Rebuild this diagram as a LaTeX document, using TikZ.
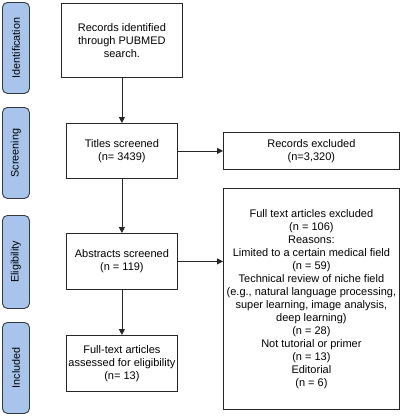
\documentclass[tikz,border=0pt]{standalone}
\usepackage{fontspec}
\setmainfont{Liberation Sans}
\usetikzlibrary{arrows.meta}
\definecolor{phase}{HTML}{A9C4EB}
\definecolor{phaseline}{HTML}{36393D}
\tikzset{
  phasebox/.style={draw=phaseline, fill=phase, rounded corners=5pt, line width=0.9pt,
     minimum width=27pt, minimum height=91pt, inner sep=0pt, anchor=north west},
  phaselabel/.style={rotate=90, font=\fontsize{10.8}{12}\selectfont},
  flowbox/.style={draw=black!85, line width=0.8pt, align=center, inner sep=0pt,
     font=\fontsize{11}{13}\selectfont, anchor=north west},
  flowarrow/.style={-{Triangle[length=6pt,width=6pt]}, line width=0.8pt, draw=black!85},
}
\begin{document}
\begin{tikzpicture}[x=1pt,y=-1pt]
\useasboundingbox (0,0) rectangle (400,416);
\node[phasebox] (pid) at (2,2) {};
\node[phaselabel] (lid) at (pid.center) {Identification};
\node[phasebox] (pscr) at (2,107) {};
\node[phaselabel] (lscr) at (pscr.center) {Screening};
\node[phasebox, minimum height=93pt] (pel) at (2,215) {};
\node[phaselabel] (lel) at (pel.center) {Eligibility};
\node[phasebox] (pin) at (2,322) {};
\node[phaselabel] (lin) at (pin.center) {Included};

\node[flowbox, minimum width=121pt, minimum height=74pt] (rec) at (61,3)
  {Records identified\\through PUBMED\\search.};
\node[flowbox, minimum width=111pt, minimum height=55pt] (tit) at (66,123)
  {Titles screened\\(n= 3439)};
\node[flowbox, minimum width=111pt, minimum height=56pt] (abs) at (66,233)
  {Abstracts screened\\(n = 119)};
\node[flowbox, minimum width=111pt, minimum height=56pt] (ful) at (66,335)
  {Full-text articles\\assessed for eligibility\\(n= 13)};
\node[flowbox, minimum width=176pt, minimum height=37pt] (rex) at (223,132)
  {Records excluded\\(n=3,320)};
\node[flowbox, minimum width=176pt, minimum height=221pt] (fex) at (223,188)
  {Full text articles excluded\\(n = 106)\\Reasons:\\Limited to a certain medical field\\(n = 59)\\Technical review of niche field\\(e.g., natural language processing,\\super learning, image analysis,\\deep learning)\\(n = 28)\\Not tutorial or primer\\(n = 13)\\Editorial\\(n = 6)};

\draw[flowarrow] (rec.south) -- (tit.north);
\draw[flowarrow] (tit.south) -- (abs.north);
\draw[flowarrow] (abs.south) -- (ful.north);
\draw[flowarrow] (tit.east) -- (rex.west);
\draw[flowarrow] (abs.east) -- (abs.east -| fex.west);
\end{tikzpicture}
\end{document}
